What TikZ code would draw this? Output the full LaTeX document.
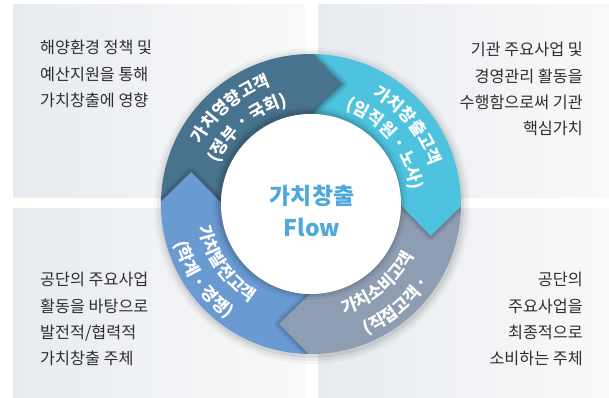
\documentclass[tikz,border=0pt]{standalone}
\usepackage{fontspec}
\usepackage{xcolor}
\usepackage{tikz}
\usetikzlibrary{calc,decorations.text}

\newfontfamily\krfont{Noto Sans CJK KR}
\newcommand\notefont{\krfont\fontsize{16.3}{26.5}\selectfont}
\newcommand\ringfont{\krfont\bfseries\fontsize{17}{17}\selectfont}
\newcommand\centerfont{\krfont\bfseries\fontsize{23}{32}\selectfont}

\definecolor{panelA}{HTML}{E8EBEF}
\definecolor{panelB}{HTML}{F8F9FA}
\definecolor{notegray}{HTML}{2E2E2E}
\definecolor{segdark}{HTML}{48738F}
\definecolor{segcyan}{HTML}{4EC3DF}
\definecolor{seggray}{HTML}{8D9DB2}
\definecolor{seglight}{HTML}{6A9AD2}
\definecolor{flowblue}{HTML}{4FA7DB}

% one ring segment: tail shoulder angle, head shoulder angle
\newcommand\ringpath[2]{($(C)+(#1:150)$) arc[start angle=#1, end angle=#2, radius=150] -- ($(C)+(#2-14:124)$) -- ($(C)+(#2:90)$) arc[start angle=#2, end angle=#1, radius=90] -- ($(C)+(#1-14:124)$) -- cycle}

\begin{document}
\begin{tikzpicture}[x=1bp,y=1bp,
  panel/.style={left color=panelA, right color=panelB},
  note/.style={font=\notefont, text=notegray, inner sep=0pt},
  ringlabel/.style={decorate, decoration={text along path, text align=center, text color=white, text={|\ringfont|#1}}}]
\useasboundingbox (0,0) rectangle (609,397);
\coordinate (C) at (311,193);

% panels
\path[panel] (13,200) rectangle (305,392);
\path[panel] (318,200) rectangle (609,392);
\path[panel] (13,0) rectangle (305,189);
\path[panel] (318,0) rectangle (609,189);

\node[note, align=left, anchor=north west] (policy) at (40,357) {해양환경 정책 및\\예산지원을 통해\\가치창출에 영향};
\node[note, align=right, anchor=north east] (core) at (583,355) {기관 주요사업 및\\경영관리 활동을\\수행함으로써 기관\\핵심가치};
\node[note, align=left, anchor=north west] (partner) at (40,125) {공단의 주요사업\\활동을 바탕으로\\발전적/협력적\\가치창출 주체};
\node[note, align=right, anchor=north east] (consumer) at (583,125) {공단의\\주요사업을\\최종적으로\\소비하는 주체};

% soft shadow round the ring
\foreach \r/\o in {158/0.03,155/0.05,152/0.07}
  \fill[black,opacity=\o] ($(C)+(1,-2)$) circle[radius=\r];

% ring segments
\foreach \a/\b/\col in {179/89/segdark, 89/-1/segcyan, -1/-91/seggray, -91/-181/seglight}
  \fill[\col] \ringpath{\a}{\b};

% shadow of each head on the next segment
\foreach \b/\n in {89/-1, -1/-91, -91/-181, -181/-271}{
  \begin{scope}
    \clip \ringpath{\b}{\n};
    \foreach \w/\o in {10/0.05,6/0.07,2.5/0.1}
      \draw[black,opacity=\o,line width=\w,line join=round] ($(C)+(\b:150)$) -- ($(C)+(\b-14:124)$) -- ($(C)+(\b:90)$);
  \end{scope}
}

% labels on the ring
\path[ringlabel={가치영향고객}] ($(C)+(175:125)$) arc[start angle=175, end angle=85, radius=125];
\path[ringlabel={(정부 · 국회)}] ($(C)+(175:101)$) arc[start angle=175, end angle=85, radius=101];
\path[ringlabel={가치창출고객}] ($(C)+(84:125)$) arc[start angle=84, end angle=-6, radius=125];
\path[ringlabel={(임직원 · 노사)}] ($(C)+(84:101)$) arc[start angle=84, end angle=-6, radius=101];
\path[ringlabel={가치소비고객}] ($(C)+(-95:115)$) arc[start angle=-95, end angle=-5, radius=115];
\path[ringlabel={(직접고객 ·}] ($(C)+(-95:142)$) arc[start angle=-95, end angle=-5, radius=142];
\path[ringlabel={가치발전고객}] ($(C)+(170:115)$) arc[start angle=170, end angle=260, radius=115];
\path[ringlabel={(학계 · 경쟁)}] ($(C)+(170:142)$) arc[start angle=170, end angle=260, radius=142];

% centre disc
\foreach \r/\o in {97/0.05,94/0.07,92/0.08}
  \fill[black,opacity=\o] ($(C)+(-1,1)$) circle[radius=\r];
\fill[white] (C) circle[radius=90];
\node[font=\centerfont, text=flowblue, align=center, inner sep=0pt] (flow) at (312,186) {가치창출\\Flow};
\end{tikzpicture}
\end{document}
